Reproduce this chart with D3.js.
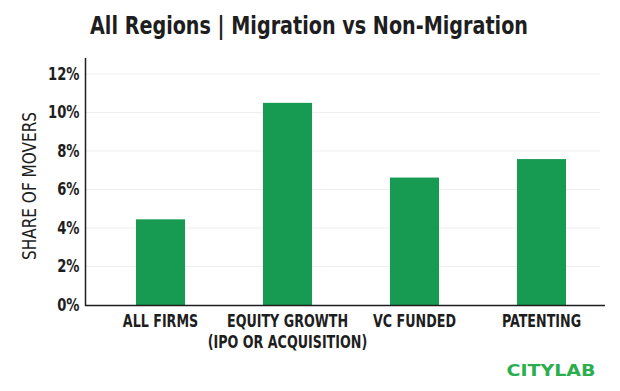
<!DOCTYPE html>
<html>
<head>
<meta charset="utf-8">
<script src="https://cdn.jsdelivr.net/npm/d3@7"></script>
<style>
  body { margin: 0; background: #fff; }
  text { font-family: "DejaVu Sans Condensed", "Liberation Sans Narrow", sans-serif; }
</style>
</head>
<body>
<svg id="chart"></svg>
<script>
const categories = ["ALL FIRMS", "EQUITY GROWTH|(IPO OR ACQUISITION)", "VC FUNDED", "PATENTING"];
const shares = [4.45, 10.5, 6.62, 7.58];
const yTicks = [0, 2, 4, 6, 8, 10, 12];

const width = 620;
const height = 391;

const svg = d3.select("#chart").attr("width", width).attr("height", height);

const x = d3.scaleBand()
  .domain(categories)
  .range([97, 605])
  .paddingInner(0.614)
  .paddingOuter(0.307);

const y = d3.scaleLinear().domain([0, 12.83]).range([305, 58]);

// squeeze a text horizontally so it reads like the condensed face of the original
function squeeze(sel, k) {
  sel.each(function () {
    const len = this.getComputedTextLength();
    d3.select(this).attr("textLength", len * k).attr("lengthAdjust", "spacingAndGlyphs");
  });
}

// title
svg.append("text")
  .attr("x", 309)
  .attr("y", 34)
  .attr("text-anchor", "middle")
  .attr("font-size", 24)
  .attr("font-weight", "bold")
  .attr("fill", "#1e1e1e")
  .attr("textLength", 438)
  .attr("lengthAdjust", "spacingAndGlyphs")
  .text("All Regions | Migration vs Non-Migration");

// faint gridlines
svg.append("g")
  .selectAll("line")
  .data(yTicks.filter((d) => d > 0))
  .join("line")
  .attr("x1", 86)
  .attr("x2", 600)
  .attr("y1", (d) => y(d))
  .attr("y2", (d) => y(d))
  .attr("stroke", "#efefef")
  .attr("stroke-width", 1);

// bars
svg.append("g")
  .selectAll("rect")
  .data(categories)
  .join("rect")
  .attr("x", (d) => x(d))
  .attr("width", x.bandwidth())
  .attr("y", (d, i) => y(shares[i]))
  .attr("height", (d, i) => y(0) - y(shares[i]))
  .attr("fill", "#179b53");

// y axis
const yAxis = svg.append("g")
  .attr("transform", "translate(85.5,0)")
  .call(d3.axisLeft(y).tickValues(yTicks).tickSize(0).tickPadding(6).tickFormat((d) => d + "%"));
yAxis.select(".domain").remove();
yAxis.selectAll("text")
  .attr("font-size", 17)
  .attr("font-weight", "bold")
  .attr("fill", "#1e1e1e")
  .attr("font-family", null)
  .call(squeeze, 0.86);

svg.append("line")
  .attr("x1", 85.5).attr("x2", 85.5)
  .attr("y1", 58).attr("y2", 306)
  .attr("stroke", "#1e1e1e").attr("stroke-width", 1.5);

svg.append("line")
  .attr("x1", 85).attr("x2", 605)
  .attr("y1", 305.5).attr("y2", 305.5)
  .attr("stroke", "#1e1e1e").attr("stroke-width", 1.5);

// x labels, one text per line ("|" splits a label)
const cx = (d) => x(d) + x.bandwidth() / 2;
svg.append("g")
  .selectAll("text")
  .data(categories.flatMap((c) => c.split("|").map((t, i) => ({ c, t, i }))))
  .join("text")
  .attr("x", (d) => cx(d.c))
  .attr("y", (d) => 327 + d.i * 21)
  .attr("text-anchor", "middle")
  .attr("font-size", 17)
  .attr("font-weight", "bold")
  .attr("fill", "#1e1e1e")
  .text((d) => d.t)
  .call(squeeze, 0.83);

// y axis title
svg.append("text")
  .attr("transform", "translate(36,186) rotate(-90)")
  .attr("text-anchor", "middle")
  .attr("font-size", 20)
  .attr("fill", "#1e1e1e")
  .attr("textLength", 148)
  .attr("lengthAdjust", "spacingAndGlyphs")
  .text("SHARE OF MOVERS");

// logo
svg.append("text")
  .attr("x", 551)
  .attr("y", 376)
  .attr("text-anchor", "middle")
  .attr("font-size", 16.5)
  .attr("font-weight", "bold")
  .attr("fill", "#2cae4f")
  .attr("textLength", 89)
  .attr("lengthAdjust", "spacingAndGlyphs")
  .style("font-family", "'DejaVu Sans', sans-serif")
  .text("CITYLAB");
</script>
</body>
</html>
